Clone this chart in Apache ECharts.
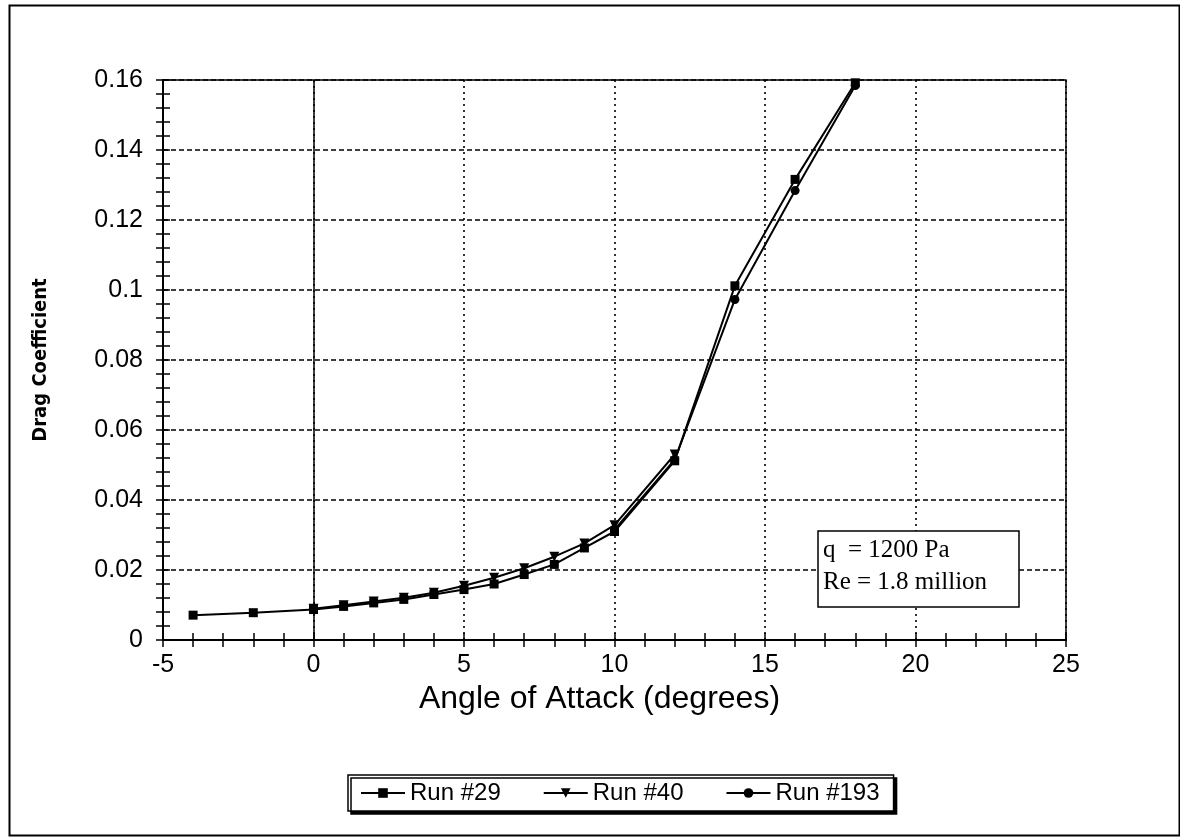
<!DOCTYPE html>
<html>
<head>
<meta charset="utf-8">
<script src="https://cdn.jsdelivr.net/npm/echarts@6/dist/echarts.min.js"></script>
<style>
html,body{margin:0;padding:0;background:#fff;}
#chart{width:1180px;height:840px;}
</style>
</head>
<body>
<div id="chart"></div>
<script>
// ---- data ----
const angles29 = [-4, -2, 0, 1, 2, 3, 4, 5, 6, 7, 8, 9, 10, 12, 14, 16, 18];
const cd29     = [0.0071, 0.0078, 0.0087, 0.0096, 0.0106, 0.0116, 0.0130, 0.0144, 0.0160, 0.0187, 0.0216, 0.0263, 0.0310, 0.0512, 0.1012, 0.1316, 0.1592];
const angles40 = [0, 1, 2, 3, 4, 5, 6, 7, 8, 9, 10, 12];
const cd40     = [0.0089, 0.0099, 0.0110, 0.0121, 0.0135, 0.0155, 0.0178, 0.0205, 0.0238, 0.0276, 0.0328, 0.0530];
const angles193 = [10, 12, 14, 16, 18];
const cd193     = [0.0315, 0.0515, 0.0973, 0.1284, 0.1584];
const seriesNames = ['Run #29', 'Run #40', 'Run #193'];
const xTitle = 'Angle of Attack (degrees)';
const yTitle = 'Drag Coefficient';
const noteLines = ['q  = 1200 Pa', 'Re = 1.8 million'];

const pair = (xs, ys) => xs.map((x, i) => [x, ys[i]]);
const SANS = 'Liberation Sans, Arial, sans-serif';

const chart = echarts.init(document.getElementById('chart'));

const xBase = {
  type: 'value', min: -5, max: 25, interval: 5, position: 'bottom'
};
const yBase = {
  type: 'value', min: 0, max: 0.16, interval: 0.02, position: 'left'
};

const option = {
  backgroundColor: '#fff',
  animation: false,
  grid: {
    left: 163, top: 80, right: 114, bottom: 200,
    containLabel: false, outerBoundsMode: 'none',
    show: true, borderColor: '#000', borderWidth: 1.5, backgroundColor: 'transparent'
  },
  xAxis: [
    Object.assign({}, xBase, {
      name: xTitle, nameLocation: 'middle', nameGap: 36,
      nameTextStyle: { fontFamily: SANS, fontSize: 32, color: '#000', padding: [0, 30, 0, 0] },
      axisLine: { show: true, onZero: false, lineStyle: { color: '#000', width: 2 } },
      axisTick: { show: true, inside: false, length: 7, lineStyle: { color: '#000', width: 1.5 } },
      minorTick: { show: true, splitNumber: 5, length: 7, lineStyle: { color: '#000', width: 1.5 } },
      axisLabel: { fontFamily: SANS, fontSize: 25, color: '#000', margin: 13 },
      splitLine: { show: true, lineStyle: { color: '#000', width: 1.6, type: [2, 4] } }
    }),
    Object.assign({}, xBase, {
      axisLine: { show: false, onZero: false },
      axisTick: { show: true, inside: true, length: 7, lineStyle: { color: '#000', width: 1.5 } },
      minorTick: { show: true, splitNumber: 5, length: 7, lineStyle: { color: '#000', width: 1.5 } },
      axisLabel: { show: false },
      splitLine: { show: false }
    })
  ],
  yAxis: [
    Object.assign({}, yBase, {
      name: yTitle, nameLocation: 'middle', nameGap: 112, nameRotate: 90,
      nameTextStyle: { fontFamily: '"DejaVu Sans Condensed", "Liberation Sans Narrow", sans-serif', fontWeight: 'bold', fontSize: 20, color: '#000' },
      axisLine: { show: true, onZero: false, lineStyle: { color: '#000', width: 2 } },
      axisTick: { show: true, inside: false, length: 7, lineStyle: { color: '#000', width: 1.5 } },
      minorTick: { show: true, splitNumber: 5, length: 7, lineStyle: { color: '#000', width: 1.5 } },
      axisLabel: { fontFamily: SANS, fontSize: 25, color: '#000', margin: 20,
        formatter: v => String(+v.toFixed(2)) },
      splitLine: { show: true, lineStyle: { color: '#000', width: 1.6, type: [5, 3] } }
    }),
    Object.assign({}, yBase, {
      axisLine: { show: false, onZero: false },
      axisTick: { show: true, inside: true, length: 7, lineStyle: { color: '#000', width: 1.5 } },
      minorTick: { show: true, splitNumber: 5, length: 7, lineStyle: { color: '#000', width: 1.5 } },
      axisLabel: { show: false },
      splitLine: { show: false }
    })
  ],
  legend: {
    data: seriesNames,
    left: 348, top: 775,
    orient: 'horizontal',
    padding: [6, 14, 6, 12],
    itemGap: 42,
    itemWidth: 44, itemHeight: 12,
    borderColor: '#000', borderWidth: 1.5,
    backgroundColor: '#fff',
    shadowColor: '#000', shadowBlur: 0, shadowOffsetX: 3, shadowOffsetY: 3,
    textStyle: { fontFamily: SANS, fontSize: 24, color: '#000' }
  },
  series: [
    {
      name: seriesNames[0], type: 'line', xAxisIndex: 0, yAxisIndex: 0,
      data: pair(angles29, cd29),
      symbol: 'rect', symbolSize: 9,
      itemStyle: { color: '#000' }, lineStyle: { color: '#000', width: 2 },
      markLine: {
        silent: true, symbol: ['none', 'none'], label: { show: false },
        lineStyle: { color: '#000', width: 1.5, type: 'solid' },
        data: [{ xAxis: 0 }]
      },
      z: 3
    },
    {
      name: seriesNames[1], type: 'line', xAxisIndex: 0, yAxisIndex: 0,
      data: pair(angles40, cd40),
      symbol: 'triangle', symbolRotate: 180, symbolSize: 10,
      itemStyle: { color: '#000' }, lineStyle: { color: '#000', width: 2 },
      z: 3
    },
    {
      name: seriesNames[2], type: 'line', xAxisIndex: 0, yAxisIndex: 0,
      data: pair(angles193, cd193),
      symbol: 'circle', symbolSize: 9,
      itemStyle: { color: '#000' }, lineStyle: { color: '#000', width: 2 },
      z: 3
    }
  ],
  graphic: {
    elements: [
      {
        type: 'rect', left: 7, top: 3, z: 0, silent: true,
        shape: { width: 1170, height: 830 },
        style: { fill: 'none', stroke: '#000', lineWidth: 2 }
      },
      { type: 'rect', x: 818, y: 531, z: 100, zlevel: 1, silent: true,
        shape: { x: 0, y: 0, width: 201, height: 76 },
        style: { fill: '#fff', stroke: '#000', lineWidth: 1.5 } },
      { type: 'text', x: 823, y: 550, z: 101, zlevel: 1, silent: true,
        style: { text: noteLines[0], font: '25px "Liberation Serif", "Times New Roman", serif', fill: '#000', verticalAlign: 'middle', align: 'left' } },
      { type: 'text', x: 823, y: 582, z: 101, zlevel: 1, silent: true,
        style: { text: noteLines[1], font: '25px "Liberation Serif", "Times New Roman", serif', fill: '#000', verticalAlign: 'middle', align: 'left' } }
    ]
  }
};
chart.setOption(option);
</script>
</body>
</html>
